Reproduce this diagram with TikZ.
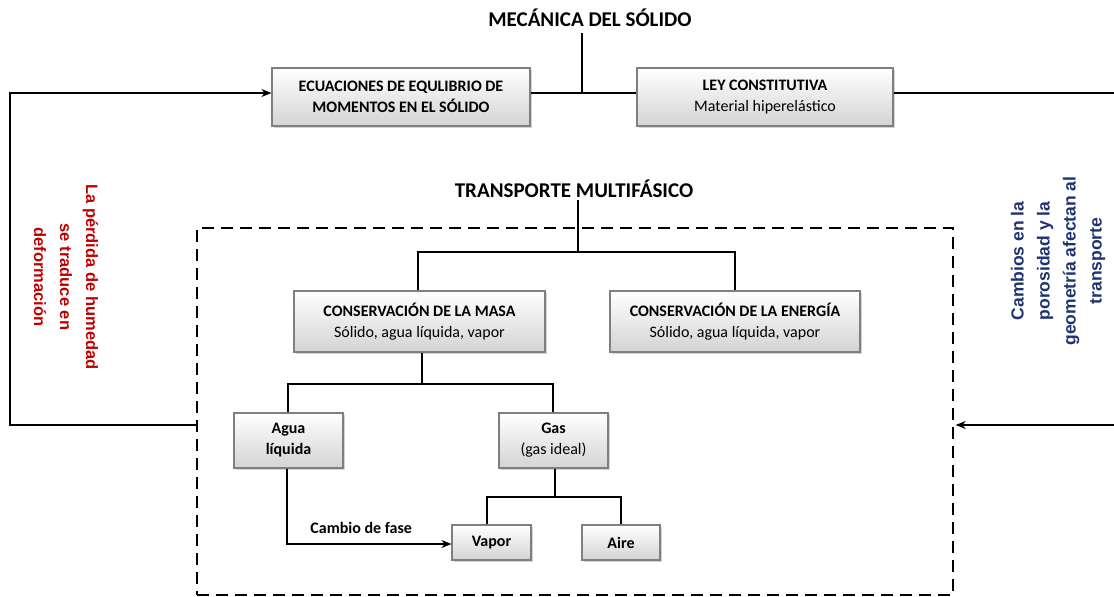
\documentclass[tikz,border=0pt]{standalone}
\usepackage{fontspec}
\setmainfont{Carlito}
\newfontfamily\arialb{Liberation Sans}
\usetikzlibrary{arrows.meta,calc,shadows}
\definecolor{redtxt}{HTML}{C00000}
\definecolor{bluetxt}{HTML}{1F3370}
\definecolor{boxborder}{HTML}{7F7F7F}
\begin{document}
\begin{tikzpicture}[x=1pt,y=-1pt,
  conn/.style={line width=1.4pt,black},
  arr/.style={conn,-{Stealth[length=10pt,width=8pt]}},
  gbox/.style={draw=boxborder,line width=1.2pt,top color=white,bottom color=black!17,
    align=center,inner sep=0pt,font=\fontsize{16}{21}\selectfont,
    drop shadow={shadow xshift=1.5pt,shadow yshift=-1.5pt,opacity=0.35}},
  title/.style={font=\fontsize{21}{24}\selectfont\bfseries},
  side/.style={font=\arialb\bfseries,align=center,inner sep=0pt}
]
\useasboundingbox (0,0) rectangle (1114,597);
% titles
\node[title] (tmec) at (590,18) {MECÁNICA DEL SÓLIDO};
\node[title] (ttra) at (574,189) {TRANSPORTE MULTIFÁSICO};
% dashed region
\node[draw,dashed,dash pattern=on 12pt off 7pt,line width=1.4pt,minimum width=756pt,minimum height=367pt,inner sep=0pt] (dash) at (575,411.5) {};
% boxes
\node[gbox,minimum width=258pt,minimum height=58pt] (equ) at (401,97) {\bfseries ECUACIONES DE EQULIBRIO DE\\ \bfseries MOMENTOS EN EL SÓLIDO};
\node[gbox,minimum width=256pt,minimum height=58pt] (ley) at (765,97) {\bfseries LEY CONSTITUTIVA\\ Material hiperelástico};
\node[gbox,minimum width=251pt,minimum height=61pt] (masa) at (419.5,321.5) {\bfseries CONSERVACIÓN DE LA MASA\\ Sólido, agua líquida, vapor};
\node[gbox,minimum width=250pt,minimum height=61pt] (ener) at (735,321.5) {\bfseries CONSERVACIÓN DE LA ENERGÍA\\ Sólido, agua líquida, vapor};
\node[gbox,minimum width=109pt,minimum height=55pt] (agua) at (288.5,440.5) {\bfseries Agua\\ \bfseries líquida};
\node[gbox,minimum width=109pt,minimum height=55pt] (gas) at (553.5,440.5) {\bfseries Gas\\ (gas ideal)};
\node[gbox,minimum width=79pt,minimum height=35pt] (vapor) at (491.5,542.5) {\bfseries Vapor};
\node[gbox,minimum width=78pt,minimum height=35pt] (aire) at (621,542.5) {\bfseries Aire};
% side texts
\node[side,text=redtxt,rotate=-90,font=\arialb\fontsize{16.5}{26}\selectfont\bfseries] (ltxt) at (66,277) {La pérdida de humedad\\ se traduce en\\ deformación};
\node[side,text=bluetxt,rotate=90,font=\arialb\fontsize{17.5}{26}\selectfont\bfseries] (rtxt) at (1058,261) {Cambios en la\\ porosidad y la\\ geometría afectan al\\ transporte};
% coordinates
\coordinate (j1) at (582,93);
\coordinate (tm) at (582,33);
\coordinate (lb) at (10,425);
\coordinate (lt) at (10,93);
\coordinate (rt) at (1114,93);
\coordinate (rb) at (1114,425);
\coordinate (j2) at (578,252);
\coordinate (tt) at (578,200);
\coordinate (j3) at (422,384);
\coordinate (j4) at (555,497);
% mechanics connectors
\draw[conn] (tm) -- (j1);
\draw[conn] (equ.east |- j1) -- (ley.west |- j1);
\draw[conn] (ley.east |- j1) -- (rt);
\draw[arr] (dash.west |- lb) -- (lb) -- (lt) -- (equ.west |- lt);
\draw[arr] (rb) -- ([xshift=2pt]dash.east |- rb);
% transport connectors
\draw[conn] (tt) -- (j2);
\draw[conn] (masa.north -| 418,0) -- (418,252) -- (735,252) -- (ener.north -| 735,0);
\draw[conn] (masa.south -| j3) -- (j3);
\draw[conn] (agua.north -| 288,0) -- (288,384) -- (553,384) -- (gas.north -| 553,0);
\draw[conn] (gas.south -| j4) -- (j4);
\draw[conn] (vapor.north -| 487,0) -- (487,497) -- (621,497) -- (aire.north -| 621,0);
\draw[arr] (agua.south -| 287,0) -- (287,544) -- (vapor.west |- 0,544) node[pos=0.5,above=6pt,font=\fontsize{16}{18}\selectfont\bfseries,xshift=-8pt] (cf) {Cambio de fase};
\end{tikzpicture}
\end{document}
